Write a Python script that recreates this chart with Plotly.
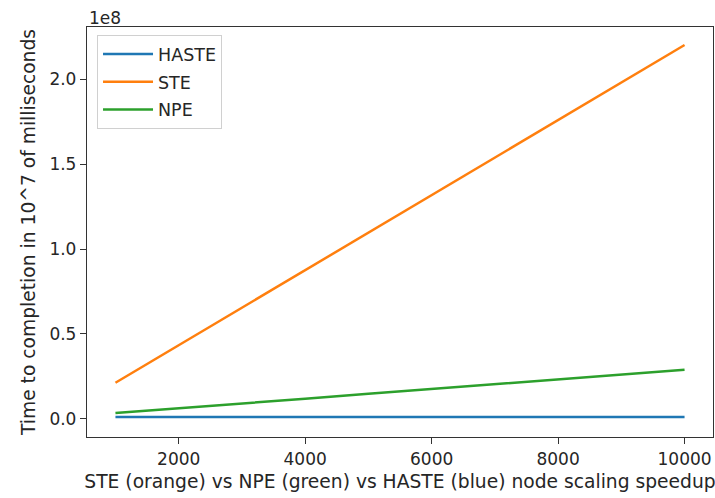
import plotly.graph_objects as go

x_nodes = [1000, 2000, 3000, 4000, 5000, 6000, 7000, 8000, 9000, 10000]
haste = [1.2e6, 1.2e6, 1.2e6, 1.2e6, 1.2e6, 1.2e6, 1.2e6, 1.2e6, 1.2e6, 1.2e6]
ste = [2.13e7, 4.34e7, 6.55e7, 8.75e7, 1.096e8, 1.317e8, 1.538e8, 1.758e8, 1.979e8, 2.20e8]
npe = [3.5e6, 6.2e6, 9.0e6, 1.19e7, 1.48e7, 1.76e7, 2.04e7, 2.32e7, 2.61e7, 2.90e7]

series_names = ["HASTE", "STE", "NPE"]
series_colors = ["#1f77b4", "#ff7f0e", "#2ca02c"]
x_ticks = [2000, 4000, 6000, 8000, 10000]
y_ticks = [0, 0.5e8, 1.0e8, 1.5e8, 2.0e8]
y_tick_labels = ["0.0", "0.5", "1.0", "1.5", "2.0"]

FONT = "DejaVu Sans"
TICK_FS = 17
TITLE_FS = 18.7
LEG_FS = 17.5
TXT = "#262626"

fig = go.Figure()
for name, vals, col in zip(series_names, [haste, ste, npe], series_colors):
    fig.add_trace(go.Scatter(x=x_nodes, y=vals, mode="lines", name=name,
                             legendgroup=name,
                             line=dict(color=col, width=2.5)))

fig.update_layout(
    width=715, height=498,
    margin=dict(l=87, r=2, t=27, b=61),
    paper_bgcolor="white", plot_bgcolor="white",
    font=dict(family=FONT, size=TICK_FS, color=TXT),
    showlegend=True,
    legend=dict(x=0.016, y=0.98, xanchor="left", yanchor="top",
                bordercolor="#d0d0d0", borderwidth=1, bgcolor="rgba(255,255,255,0.8)",
                font=dict(family=FONT, size=LEG_FS, color=TXT),
                traceorder="grouped", tracegroupgap=2, itemwidth=50),
    xaxis=dict(range=[550, 10450], tickvals=x_ticks, ticktext=[str(v) for v in x_ticks],
               automargin=False,
               showgrid=False, zeroline=False, showline=True, linecolor="#333333",
               linewidth=1.3, mirror=True, ticks="outside", ticklen=6, tickwidth=1.3,
               tickcolor="#333333", tickfont=dict(family=FONT, size=TICK_FS, color=TXT),
               title=dict(text="STE (orange) vs NPE (green) vs HASTE (blue) node scaling speedup",
                          font=dict(family=FONT, size=TITLE_FS, color=TXT), standoff=7)),
    yaxis=dict(range=[-0.106e8, 2.306e8], tickvals=y_ticks, ticktext=y_tick_labels,
               automargin=False,
               showgrid=False, zeroline=False, showline=True, linecolor="#333333",
               linewidth=1.3, mirror=True, ticks="outside", ticklen=6, tickwidth=1.3,
               tickcolor="#333333", tickfont=dict(family=FONT, size=TICK_FS, color=TXT),
               title=dict(text="Time to completion in 10^7 of milliseconds",
                          font=dict(family=FONT, size=TITLE_FS, color=TXT), standoff=8)),
    annotations=[dict(text="1e8", x=0, y=1, xref="paper", yref="paper",
                      xanchor="left", yanchor="bottom", showarrow=False, yshift=-3,
                      font=dict(family=FONT, size=TICK_FS, color=TXT))],
)

fig.write_html("out.html",
               config={"displayModeBar": False},
               post_script="document.body.style.margin='0';document.body.style.overflow='hidden';")
